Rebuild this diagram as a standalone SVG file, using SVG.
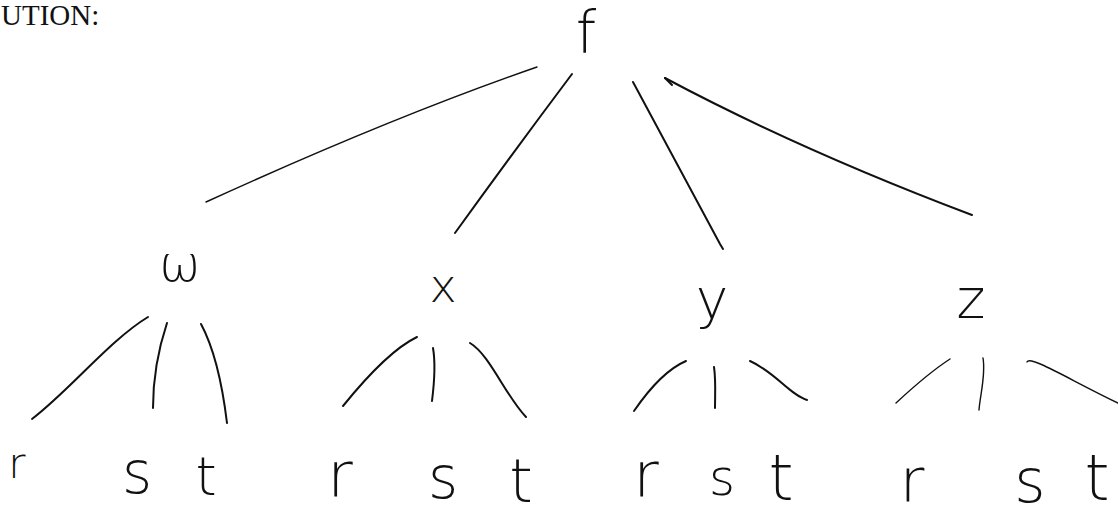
<svg xmlns="http://www.w3.org/2000/svg" width="1118" height="518" viewBox="0 0 1118 518">
<style>
.bg{fill:#fff}
.e{fill:none;stroke:#111;stroke-width:2;stroke-linecap:round}
.thin{stroke-width:1.4}
.h{font-family:"DejaVu Sans","Liberation Sans",sans-serif;font-weight:200;fill:#111;text-anchor:middle}
.hdr{font-family:"Liberation Serif","Times New Roman",serif;font-size:29px;fill:#111}
</style>
<rect class="bg" x="0" y="0" width="1118" height="518"/>
<text class="hdr" x="1" y="25">UTION:</text>
<g id="connectors">
<path class="e thin" d="M537 67 Q 390 118 206 202"/>
<path class="e" d="M572 74 Q 515 150 455 233"/>
<path class="e" d="M633 82 Q 680 170 720 244 L723 249"/>
<path class="e" d="M665 78 Q 800 150 972 215"/>
<path class="e" d="M665 78 L672 85"/>
<path class="e" d="M148 317 C 110 340 70 390 32 419"/>
<path class="e" d="M167 323 C 158 350 153 380 153 408"/>
<path class="e" d="M201 324 C 215 350 223 390 227 423"/>
<path class="e" d="M417 337 C 390 350 360 385 343 406"/>
<path class="e" d="M433 348 C 436 365 434 385 432 401"/>
<path class="e" d="M470 343 C 490 355 505 395 526 417"/>
<path class="e" d="M686 361 C 665 370 645 395 634 411"/>
<path class="e" d="M714 367 C 716 380 715 395 715 408"/>
<path class="e" d="M750 361 C 775 372 790 395 807 400"/>
<path class="e thin" d="M950 359 C 930 372 910 390 896 403"/>
<path class="e thin" d="M983 358 C 986 375 980 395 979 410"/>
<path class="e thin" d="M1027 362 C 1030 355 1070 380 1118 403"/>
</g>
<g id="node-f"><text class="h" x="586" y="53" font-size="58">f</text></g>
<g id="node-w"><text class="h" x="180" y="281" font-size="50">ω</text></g>
<g id="node-x"><text class="h" x="443" y="302" font-size="46">x</text></g>
<g id="node-y"><text class="h" x="712" y="318" font-size="55">y</text></g>
<g id="node-z"><text class="h" x="971" y="318" font-size="55">z</text></g>
<g id="leaf-w-r"><text class="h" x="17" y="478" font-size="42">r</text></g>
<g id="leaf-w-s"><text class="h" x="137" y="493" font-size="58">s</text></g>
<g id="leaf-w-t"><text class="h" x="206" y="495" font-size="54">t</text></g>
<g id="leaf-x-r"><text class="h" x="340" y="497" font-size="62">r</text></g>
<g id="leaf-x-s"><text class="h" x="443" y="498" font-size="58">s</text></g>
<g id="leaf-x-t"><text class="h" x="521" y="502" font-size="60">t</text></g>
<g id="leaf-y-r"><text class="h" x="646" y="497" font-size="62">r</text></g>
<g id="leaf-y-s"><text class="h" x="722" y="495" font-size="50">s</text></g>
<g id="leaf-y-t"><text class="h" x="781" y="500" font-size="64">t</text></g>
<g id="leaf-z-r"><text class="h" x="912" y="502" font-size="60">r</text></g>
<g id="leaf-z-s"><text class="h" x="1030" y="502" font-size="60">s</text></g>
<g id="leaf-z-t"><text class="h" x="1097" y="500" font-size="64">t</text></g>
</svg>
